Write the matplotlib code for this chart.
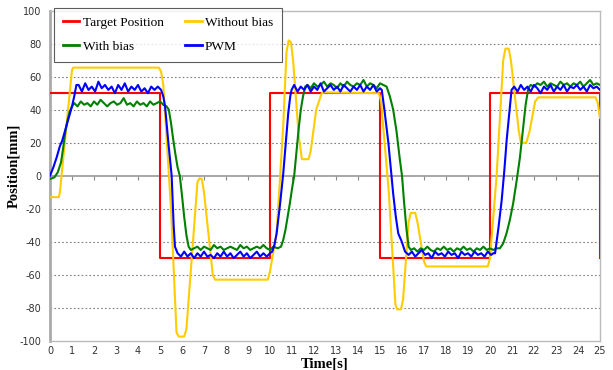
import matplotlib
matplotlib.use("Agg")
import matplotlib.pyplot as plt

# ---------------- data ----------------
target_t = [0, 5, 5, 10, 10, 15, 15, 20, 20, 25, 25]
target_y = [50, 50, -50, -50, 50, 50, -50, -50, 50, 50, -50]

nobias_t = [0, 0.4, 0.45, 1.0, 1.05, 4.95, 5.05, 5.15, 5.5, 5.75, 5.85, 6.1, 6.2, 6.5, 6.7, 6.8, 6.9,
            7.0, 7.4, 7.5, 9.9, 10.0, 10.3, 10.6, 10.75, 10.85, 10.95, 11.05, 11.3, 11.45, 11.75, 11.85,
            12.1, 12.35, 12.5, 14.95, 15.05, 15.4, 15.7, 15.78, 15.95, 16.05, 16.3, 16.4, 16.6, 16.7,
            17.0, 17.1, 19.9, 20.0, 20.3, 20.6, 20.7, 20.85, 20.95, 21.3, 21.4, 21.65, 21.8, 22.05,
            22.2, 24.8, 24.9, 25.0]
nobias_y = [-13, -13, -10, 64, 65.5, 65.5, 63, 55, -20, -95, -97.5, -97.5, -93, -40, -4, -1.5, -2,
            -10, -60, -63, -63, -58, -35, 30, 75, 82, 81, 70, 25, 10, 10, 15,
            40, 50, 50.5, 50, 45, -10, -78, -81, -81, -75, -28, -22.5, -22.5, -28,
            -52, -55, -55, -50, 0, 70, 77, 77, 70, 28, 20, 20, 27, 45,
            47.5, 47.5, 44, 35]

bias_t = [0, 0.2, 0.35, 0.5, 0.6, 0.7, 0.8, 0.9, 1.0, 1.1,
          1.25, 1.4, 1.55, 1.7, 1.85, 2.0, 2.15, 2.3, 2.45, 2.6, 2.75, 2.9, 3.05, 3.2, 3.35, 3.5,
          3.65, 3.8, 3.95, 4.1, 4.25, 4.4, 4.55, 4.7, 4.85, 5.0, 5.15, 5.3,
          5.4, 5.5, 5.6, 5.7, 5.8, 5.9, 6.0, 6.1, 6.2, 6.3, 6.4,
          6.55, 6.7, 6.85, 7.0, 7.15, 7.3, 7.45, 7.6, 7.75, 7.9, 8.05, 8.2, 8.35, 8.5, 8.65, 8.8,
          8.95, 9.1, 9.25, 9.4, 9.55, 9.7, 9.85, 10.0, 10.15, 10.35,
          10.5, 10.6, 10.7, 10.8, 10.9, 11.0, 11.1, 11.2, 11.3, 11.4, 11.5, 11.6, 11.7,
          11.85, 12.0, 12.15, 12.3, 12.45, 12.6, 12.75, 12.9, 13.05, 13.2, 13.35, 13.5, 13.65, 13.8,
          13.95, 14.1, 14.25, 14.4, 14.55, 14.7, 14.85, 15.0, 15.15, 15.3,
          15.45, 15.6, 15.75, 15.9, 16.0, 16.1, 16.2, 16.3, 16.4,
          16.55, 16.7, 16.85, 17.0, 17.15, 17.3, 17.45, 17.6, 17.75, 17.9, 18.05, 18.2, 18.35, 18.5,
          18.65, 18.8, 18.95, 19.1, 19.25, 19.4, 19.55, 19.7, 19.85, 20.0, 20.15, 20.3, 20.45,
          20.6, 20.75, 20.9, 21.05, 21.2, 21.36, 21.5, 21.62, 21.74, 21.85,
          22.0, 22.15, 22.3, 22.45, 22.6, 22.75, 22.9, 23.05, 23.2, 23.35, 23.5, 23.65, 23.8,
          23.95, 24.1, 24.25, 24.4, 24.55, 24.7, 24.85, 25.0]
bias_y = [-2, -1, 2, 8, 17, 27, 34, 39, 42, 44,
          42, 45, 43, 44, 42, 45, 43, 46, 44, 42, 44, 45, 43, 44, 47, 43,
          44, 42, 45, 43, 44, 42, 45, 43, 44, 45, 43, 42,
          40, 32, 22, 13, 5, 0, -12, -25, -36, -43, -45,
          -44, -43, -45, -43, -44, -45, -42, -44, -43, -45, -44, -43, -44, -45, -42, -44,
          -43, -45, -44, -43, -44, -42, -44, -45, -43, -44,
          -43, -39, -33, -25, -17, -8, 0, 14, 28, 40, 48, 54, 55,
          53, 56, 54, 55, 57, 54, 56, 55, 53, 56, 54, 57, 55, 54,
          56, 55, 58, 54, 56, 55, 53, 56, 55, 54,
          48, 40, 27, 10, 0, -17, -32, -43, -45,
          -44, -46, -44, -45, -43, -45, -46, -44, -45, -43, -45, -44, -46, -44,
          -45, -43, -45, -44, -46, -44, -45, -43, -45, -44, -45, -44, -44,
          -41, -35, -27, -17, -4, 11, 28, 43, 53, 55,
          54, 56, 55, 57, 54, 56, 55, 54, 57, 55, 56, 54, 56,
          55, 57, 54, 56, 58, 55, 56, 55]

pwm_t = [0, 0.15, 0.3, 0.45, 0.55, 0.7, 0.85, 1.0, 1.1, 1.2,
         1.3, 1.45, 1.6, 1.75, 1.9, 2.05, 2.2, 2.35, 2.5, 2.65, 2.8, 2.95, 3.1, 3.25, 3.4, 3.55,
         3.7, 3.85, 4.0, 4.15, 4.3, 4.45, 4.6, 4.75, 4.9, 5.05,
         5.15, 5.23, 5.38, 5.53, 5.62, 5.68, 5.8,
         5.95, 6.1, 6.25, 6.4, 6.55, 6.7, 6.85, 7.0, 7.15, 7.3, 7.45, 7.6, 7.75, 7.9, 8.05, 8.2,
         8.35, 8.5, 8.65, 8.8, 8.95, 9.1, 9.25, 9.4, 9.55, 9.7, 9.85, 10.0, 10.1,
         10.2, 10.3, 10.45, 10.6, 10.72, 10.83, 10.92, 10.98,
         11.1, 11.25, 11.4, 11.55, 11.7, 11.85, 12.0, 12.15, 12.3, 12.45, 12.6, 12.75, 12.9,
         13.05, 13.2, 13.35, 13.5, 13.65, 13.8, 13.95, 14.1, 14.25, 14.4, 14.55, 14.7, 14.85, 15.0,
         15.08, 15.2, 15.38, 15.5, 15.6, 15.72, 15.83, 15.99, 16.14,
         16.3, 16.45, 16.6, 16.75, 16.9, 17.05, 17.2, 17.35, 17.5, 17.65, 17.8, 17.95, 18.1,
         18.25, 18.4, 18.55, 18.7, 18.85, 19.0, 19.15, 19.3, 19.45, 19.6, 19.75, 19.9, 20.05, 20.15,
         20.23, 20.38, 20.53, 20.65, 20.76, 20.88, 20.98,
         21.1, 21.25, 21.4, 21.55, 21.7, 21.85, 22.0, 22.15, 22.3, 22.45, 22.6, 22.75, 22.9,
         23.05, 23.2, 23.35, 23.5, 23.65, 23.8, 23.95, 24.1, 24.25, 24.4, 24.55, 24.7, 24.85, 25.0]
pwm_y = [0, 5, 11, 18, 21, 28, 35, 42, 48, 55,
         55, 51, 56, 52, 54, 51, 57, 53, 55, 52, 54, 50, 55, 52, 56, 51,
         54, 52, 55, 51, 53, 50, 54, 52, 54, 52,
         48, 42, 20, 0, -30, -43, -47,
         -49, -46, -49, -47, -50, -47, -49, -46, -49, -48, -50, -47, -49, -46, -49, -47,
         -50, -48, -46, -49, -47, -50, -48, -46, -49, -47, -49, -47, -46,
         -42, -35, -18, 1, 20, 38, 48, 52,
         55, 51, 54, 52, 55, 51, 54, 52, 56, 51, 53, 55, 52,
         54, 51, 55, 53, 51, 54, 52, 55, 51, 54, 52, 55, 51, 53,
         52, 40, 20, 3, -11, -25, -35, -40, -46,
         -48, -46, -49, -47, -45, -48, -47, -50, -46, -48, -47, -49, -46,
         -48, -47, -50, -46, -48, -47, -49, -46, -48, -47, -49, -46, -48, -47,
         -47, -32, -15, 3, 22, 38, 52,
         54, 51, 55, 52, 54, 51, 55, 53, 50, 54, 52, 55, 51,
         54, 52, 55, 51, 54, 53, 55, 52, 54, 51, 55, 53, 54, 52]

x_ticks = list(range(0, 26))
y_ticks = list(range(-100, 101, 20))
series_labels = ["Target Position", "Without bias", "With bias", "PWM"]

# ---------------- plot ----------------
fig = plt.figure(figsize=(6.13, 3.70), dpi=100)
ax = fig.add_axes([50 / 613, 29.3 / 370, 550 / 613, 330 / 370])

LW = 1.5
l_red, = ax.plot(target_t, target_y, color="#ff0000", lw=LW, zorder=3)
l_yel, = ax.plot(nobias_t, nobias_y, color="#ffcc00", lw=LW, zorder=4)
l_grn, = ax.plot(bias_t, bias_y, color="#008000", lw=LW, zorder=5)
l_blu, = ax.plot(pwm_t, pwm_y, color="#0000ff", lw=LW, zorder=6)

ax.set_xlim(0, 25)
ax.set_ylim(-100, 100)
ax.set_yticks(y_ticks)
ax.set_yticklabels([str(v) for v in y_ticks], fontsize=7, color="#333333")
for v in y_ticks:
    if v not in (0, -100, 100):
        ax.axhline(v, color="#808080", lw=0.8, ls=(0, (1.5, 2)), zorder=1)
ax.axhline(0, color="#999999", lw=1.2, zorder=2)
ax.tick_params(axis="y", length=0, pad=6)

# x tick marks on the zero line, labels at the bottom
ax.set_xticks(x_ticks)
ax.set_xticklabels([str(v) for v in x_ticks], fontsize=7, color="#333333")
ax.tick_params(axis="x", length=0, pad=4)
sec = ax.secondary_xaxis(0.5)
sec.set_xticks(x_ticks, labels=[])
sec.tick_params(axis="x", direction="in", length=3, color="#888888",
                labelbottom=False, labeltop=False)
sec.spines["bottom"].set_visible(False)
sec.spines["top"].set_visible(False)

for s in ["top", "right", "bottom"]:
    ax.spines[s].set_color("#bbbbbb")
    ax.spines[s].set_linewidth(1.0)
ax.spines["left"].set_color("#aaaaaa")
ax.spines["left"].set_linewidth(2.0)

ax.set_xlabel("Time[s]", fontsize=10.5, fontweight="bold", family="Liberation Serif")
ax.xaxis.set_label_coords(275 / 550, (340.7 - 357) / 330)
ax.set_ylabel("Position[mm]", fontsize=10.5, fontweight="bold", family="Liberation Serif")
ax.yaxis.set_label_coords((20 - 50) / 550, (340.7 - 166) / 330)

leg = ax.legend([l_red, l_grn, l_yel, l_blu],
                [series_labels[0], series_labels[2], series_labels[1], series_labels[3]],
                ncol=2, loc="upper left",
                bbox_to_anchor=(0.007, 1.009), borderaxespad=0, frameon=True, fancybox=False,
                prop={"family": "Liberation Serif", "size": 9.6}, handlelength=1.25,
                columnspacing=1.6, labelspacing=0.9, borderpad=0.65, handletextpad=0.25)
leg.get_frame().set_edgecolor("#333333")
leg.get_frame().set_linewidth(0.8)
for h in leg.get_lines():
    h.set_linewidth(2.0)

fig.savefig("out.png", dpi=100)
